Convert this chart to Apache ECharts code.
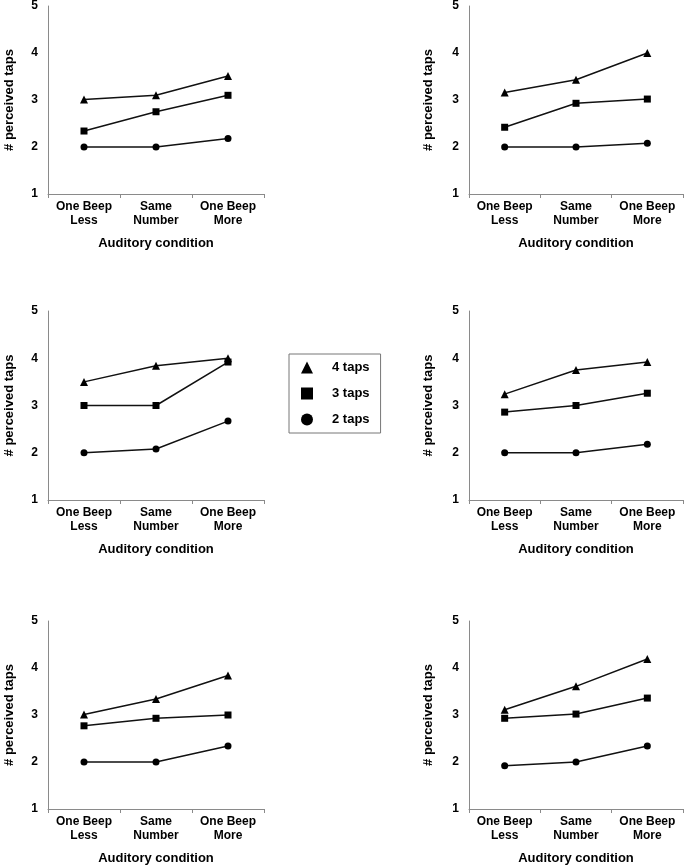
<!DOCTYPE html>
<html>
<head>
<meta charset="utf-8">
<script src="https://cdn.jsdelivr.net/npm/echarts@6/dist/echarts.min.js"></script>
<style>html,body{margin:0;padding:0;background:#fff;}#c{width:685px;height:868px;}</style>
</head>
<body>
<div id="c"></div>
<script>
// ---- data ----
const categories = ['One Beep\nLess', 'Same\nNumber', 'One Beep\nMore'];
const yTicks = [1, 2, 3, 4, 5];
const seriesNames = ['4 taps', '3 taps', '2 taps'];
// one row per panel (top-left, top-right, middle-left, middle-right, bottom-left, bottom-right)
const taps4 = [
  [3.01, 3.10, 3.51],
  [3.16, 3.43, 4.00],
  [3.50, 3.84, 4.00],
  [3.24, 3.75, 3.92],
  [3.01, 3.34, 3.84],
  [3.11, 3.61, 4.19]
];
const taps3 = [
  [2.34, 2.75, 3.10],
  [2.42, 2.93, 3.02],
  [3.00, 3.00, 3.92],
  [2.86, 3.00, 3.26],
  [2.77, 2.93, 3.00],
  [2.93, 3.02, 3.36]
];
const taps2 = [
  [2.00, 2.00, 2.18],
  [2.00, 2.00, 2.08],
  [2.00, 2.08, 2.67],
  [2.00, 2.00, 2.18],
  [2.00, 2.00, 2.34],
  [1.92, 2.00, 2.34]
];
const xAxisTitle = 'Auditory condition';
const yAxisTitle = '# perceived taps';

// ---- layout ----
const grids = [
  {left: 48, top: 6, width: 216, height: 188},
  {left: 469, top: 6, width: 214, height: 188},
  {left: 48, top: 311, width: 216, height: 189},
  {left: 469, top: 311, width: 214, height: 189},
  {left: 48, top: 621, width: 216, height: 188},
  {left: 469, top: 621, width: 214, height: 188}
];
const font = 'Liberation Sans, Arial, sans-serif';
const axisGray = '#8a8a8a';
const symbols = ['triangle', 'rect', 'circle'];
const symSizes = [8, 7, 7];
const allData = [taps4, taps3, taps2];

const xAxes = [], yAxes = [], series = [];
grids.forEach((g, i) => {
  const isLeft = (i % 2 === 0);
  xAxes.push({
    type: 'category', gridIndex: i, data: categories, boundaryGap: true,
    axisLine: {lineStyle: {color: axisGray, width: 1}},
    axisTick: {show: true, length: 4, lineStyle: {color: axisGray}},
    axisLabel: {color: '#000', fontFamily: font, fontWeight: 'bold', fontSize: 12, lineHeight: 14, margin: 6, interval: 0},
    name: xAxisTitle, nameLocation: 'middle', nameGap: 43,
    nameTextStyle: {color: '#000', fontFamily: font, fontWeight: 'bold', fontSize: 13}
  });
  yAxes.push({
    type: 'value', gridIndex: i, min: yTicks[0], max: yTicks[yTicks.length - 1], interval: 1,
    axisLine: {show: true, lineStyle: {color: axisGray, width: 1}},
    axisTick: {show: false},
    splitLine: {show: false},
    axisLabel: {color: '#000', fontFamily: font, fontWeight: 'bold', fontSize: 12, margin: 10},
    name: yAxisTitle, nameLocation: 'middle', nameGap: isLeft ? 32 : 34,
    nameTextStyle: {color: '#000', fontFamily: font, fontWeight: 'bold', fontSize: 13}
  });
  seriesNames.forEach((nm, s) => {
    series.push({
      name: nm, type: 'line', xAxisIndex: i, yAxisIndex: i,
      data: allData[s][i],
      symbol: symbols[s], symbolSize: symSizes[s],
      lineStyle: {color: '#111', width: 1.5},
      itemStyle: {color: '#000'},
      animation: false
    });
  });
});

const chart = echarts.init(document.getElementById('c'), null, {renderer: 'canvas'});
chart.setOption({
  backgroundColor: '#fff',
  animation: false,
  grid: grids.map(g => Object.assign({containLabel: false}, g)),
  xAxis: xAxes,
  yAxis: yAxes,
  legend: {
    left: 289, top: 354, orient: 'vertical',
    data: seriesNames.map((n, s) => ({name: n, icon: symbols[s]})),
    itemWidth: 12, itemHeight: 12, itemGap: 13,
    padding: [7, 11, 7, 12],
    borderColor: '#777', borderWidth: 1,
    selectedMode: false,
    itemStyle: {color: '#000'},
    textStyle: {color: '#000', fontFamily: font, fontWeight: 'bold', fontSize: 13, padding: [0, 0, 0, 14]}
  },
  series: series
});
</script>
</body>
</html>
